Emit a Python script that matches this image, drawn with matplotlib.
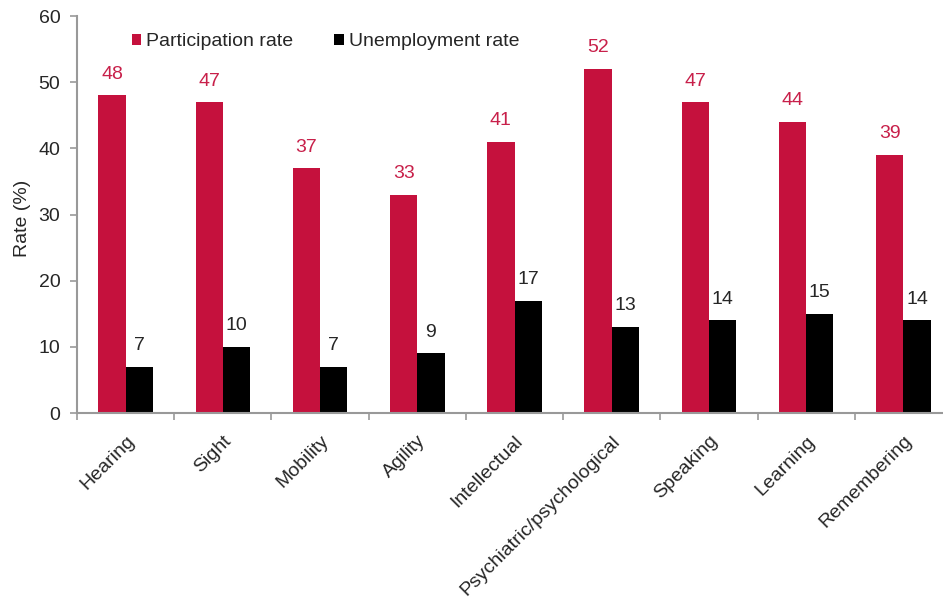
import matplotlib.pyplot as plt
import numpy as np
from matplotlib.ticker import FixedLocator

plt.rcParams['font.family'] = ['Liberation Sans', 'DejaVu Sans']

categories = ["Hearing", "Sight", "Mobility", "Agility", "Intellectual",
              "Psychiatric/psychological", "Speaking", "Learning", "Remembering"]
participation = [48, 47, 37, 33, 41, 52, 47, 44, 39]
unemployment = [7, 10, 7, 9, 17, 13, 14, 15, 14]

red = '#C5113D'
grey = '#999999'
txt = '#262626'
fs = 14

fig = plt.figure(figsize=(9.43, 6.01), dpi=100)
ax = fig.add_axes([0.0817, 0.3128, 0.9278, 0.6605])

x = np.arange(len(categories))
w = 0.28
ax.bar(x - w / 2, participation, w, color=red, label='Participation rate')
ax.bar(x + w / 2, unemployment, w, color='black', label='Unemployment rate')

for i in x:
    ax.annotate(str(participation[i]), (i - w / 2, participation[i]), xytext=(0, 9),
                textcoords='offset points', ha='center', va='bottom',
                color='#C8204A', fontsize=fs)
    ax.annotate(str(unemployment[i]), (i + w / 2, unemployment[i]), xytext=(0, 9),
                textcoords='offset points', ha='center', va='bottom',
                color=txt, fontsize=fs)

ax.set_xlim(-0.5, len(categories) - 0.5)
ax.set_ylim(0, 60)
ax.set_yticks(range(0, 61, 10))
ax.set_ylabel('Rate (%)', fontsize=fs, color=txt)
ax.yaxis.set_label_coords(-0.053, 0.49)

ax.set_xticks(x)
ax.set_xticklabels(categories, rotation=45, ha='right', va='top',
                   rotation_mode='anchor', fontsize=fs, color=txt)
ax.xaxis.set_minor_locator(FixedLocator(np.arange(-0.5, len(categories), 1)))
ax.tick_params(axis='x', which='major', length=0, pad=14)
ax.tick_params(axis='x', which='minor', length=5, width=1.2, direction='out', color=grey)
ax.tick_params(axis='y', length=5, width=1.2, direction='out', color=grey, pad=7,
               labelsize=fs, labelcolor=txt)

for side in ['top', 'right']:
    ax.spines[side].set_visible(False)
for side in ['left', 'bottom']:
    ax.spines[side].set_color(grey)
    ax.spines[side].set_linewidth(1.5)

ax.legend(loc='upper left', bbox_to_anchor=(0.058, 0.967), ncol=2, frameon=False,
          fontsize=fs, handlelength=0.5, handleheight=0.5, handletextpad=0.25,
          columnspacing=2.1, borderaxespad=0, borderpad=0.2, labelcolor=txt)

fig.savefig('out.png', dpi=100)
